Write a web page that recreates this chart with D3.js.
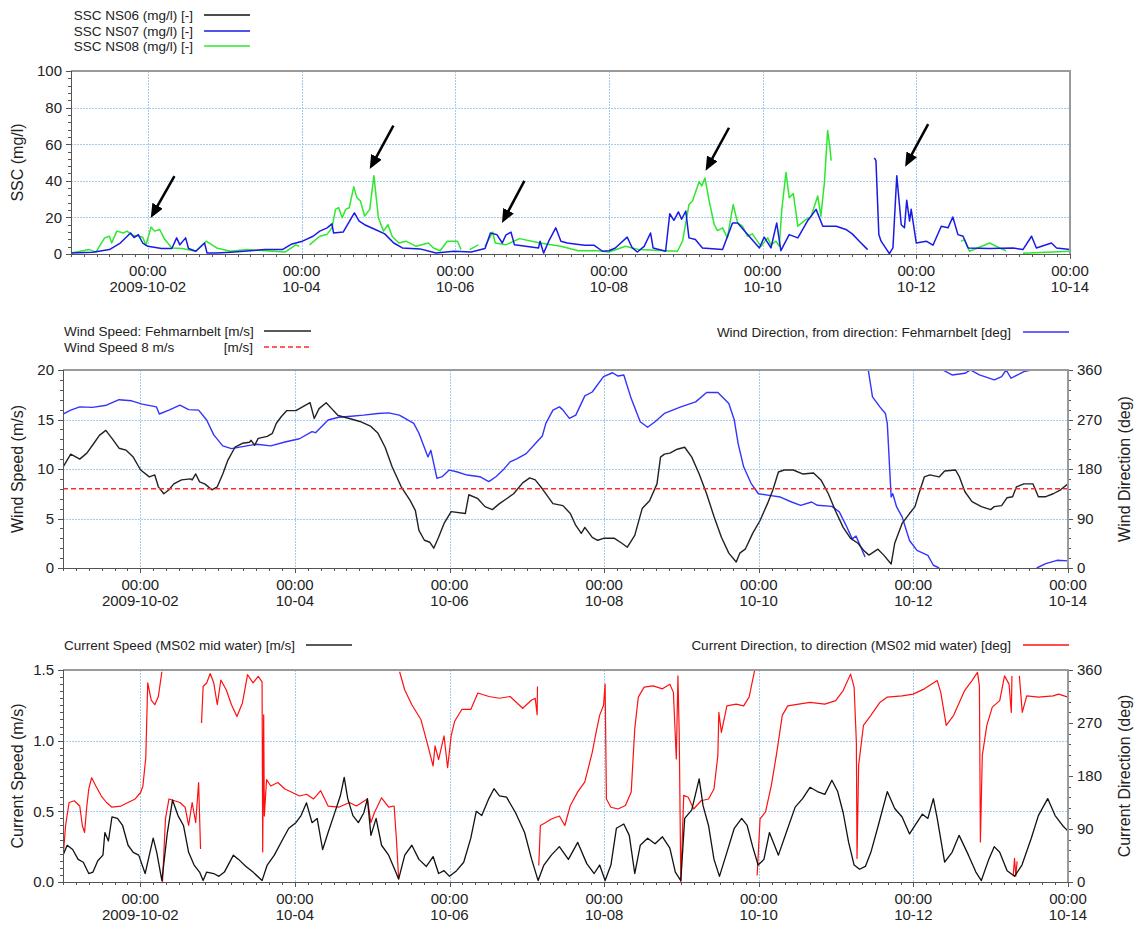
<!DOCTYPE html>
<html>
<head>
<meta charset="utf-8">
<script src="https://cdn.jsdelivr.net/npm/d3@7"></script>
<style>
  body { margin: 0; background: #fff; }
  svg { font-family: "Liberation Sans", Arial, sans-serif; }
  text { fill: #222; }
</style>
</head>
<body>
<svg id="chart" width="1137" height="925"></svg>
<script>
// time is given in hours after 2009-10-01 00:00 (UTC)
var startDate = Date.UTC(2009, 9, 1);
var endHour = 312;
var majorHours = [24, 72, 120, 168, 216, 264, 312];

var sscTicks = [0, 20, 40, 60, 80, 100];
var windTicks = [0, 5, 10, 15, 20];
var dirTicks = [0, 90, 180, 270, 360];
var curTicks = [0, 0.5, 1.0, 1.5];
var windLimit = 8;

// SSC (mg/l), null = gap
var sscNS06 = [];
var sscNS07 = [[0,0.5],[6.8,1],[12,2.4],[15.4,6],[18.6,11.5],[19.7,9],[21,10.6],[22.4,6],[24,4.2],[28.3,3],[31.5,3],[33,8.8],[34,5],[35.8,8.8],[36.7,3],[39,1.5],[41.7,6],[42.5,0.5],[45.5,0.5],[49.8,1],[56,1.8],[60.5,2.4],[66,2.4],[69,5.5],[72.3,7],[75.6,9.7],[77.7,12.5],[80,14.3],[81.5,16.5],[82,11.5],[85,12],[88.5,22.5],[90,18],[91.7,16],[95,13.4],[98,11],[100.8,6],[103.5,3.3],[109,2.8],[114,0.5],[119.6,1.5],[125,1.1],[129.3,3],[131,11.5],[133,10.6],[134.7,6],[135.8,10.3],[137.4,12],[138.5,5],[142,4.2],[146,3.3],[146.5,7],[147.6,0.5],[149.2,7],[151.4,14.3],[153,7],[155,6],[157.3,5.5],[160.5,4.8],[163.3,4.8],[166,1.5],[168,1.8],[170,3.3],[173.7,9.2],[175.3,3.3],[176.9,1.1],[179,4.2],[181,11.5],[181.8,3.3],[185.7,1.5],[187,22],[188.3,18.4],[189.7,23],[190.7,19],[192,23.5],[193,8.8],[195,7.9],[197.2,3.3],[203.5,2.4],[206.6,17],[208.2,17],[211.8,9.7],[215,3.3],[216.5,9.2],[218.6,3.3],[220.4,17],[221.7,1.8],[224.3,10.6],[227,8.8],[230,18],[232.7,24.4],[234.8,15.2],[239,15.2],[242,13.4],[244,11],[246.2,7],[248.8,2.4],[249.5,null],[250.9,52.5],[251.4,51],[252.3,10.6],[253,7],[255.6,0.2],[256.7,3.3],[257.9,42.8],[259.3,16],[260.3,14.3],[261,29.4],[261.9,18],[262.4,24.4],[264,6],[267.1,7],[269.2,4.8],[271.8,15.2],[273.9,14.3],[275.4,20.2],[277,10.6],[278.6,9.7],[280.2,3.3],[286.9,3],[294.2,3.3],[297.3,2.4],[300,9.7],[301.5,3.3],[306.2,6],[307.8,3.3],[312,2.4]];
var sscNS08 = [[0,0.5],[5.7,2.4],[7.8,1],[10.5,8.8],[12,9.7],[12.7,6],[14.3,12.5],[16.4,11.5],[17.5,12.5],[19.1,10.3],[21.3,9.7],[22.4,9.2],[23.4,4.8],[25,14.7],[26.1,12.5],[27.7,13.4],[29.3,7.9],[31.5,3.3],[34.7,3],[39,1.5],[42.2,7],[45.5,3.3],[49.8,1.5],[55,2.4],[60.5,1.8],[67,1.1],[70.2,5],[71.3,4.2],[72.5,null],[74.5,5],[77.7,9.7],[79.9,10.6],[81.5,14.3],[82.6,24.4],[83.6,25.3],[84.7,19.8],[85.8,24.4],[86.9,25.3],[88.3,36.7],[89.3,30.8],[90.4,29],[91.7,20.7],[93.3,24.4],[94.6,42.8],[96,19.8],[97.6,12.5],[99,16],[100.3,9.7],[102.4,6],[104.6,7],[107.8,4.2],[111.6,6],[113.2,3.3],[115.3,1.8],[117.5,7],[120.7,7],[121.8,2.4],[123,null],[124.5,2.4],[127.2,5],[128.2,null],[129.3,4.2],[131.7,12],[132.5,6],[135.8,5],[140.1,8.4],[146.5,6],[153,4.2],[158.4,1.8],[164.6,1.8],[168,1.1],[173.2,4.2],[177.4,2.4],[185.7,1.8],[189.4,1.5],[191,7],[193,27],[194.1,29],[196.2,39.6],[197,37.2],[198,41.5],[199.3,29],[200.9,16],[201.9,12.8],[203.5,14.3],[205,8.8],[206.8,27],[208.2,17],[209.7,15.2],[211.3,9.7],[212.8,11],[215.5,4.2],[217.6,8.8],[218.6,5],[220.2,7],[221.2,4.2],[222,24.4],[223.3,44.6],[224.3,30.8],[225.6,33],[227,15.2],[229.6,18.9],[231.1,20.2],[233.2,31.7],[234.2,20.7],[235.3,39],[236.3,67.5],[237,58.4],[237.4,51],[238,null],[278,7],[279,7.9],[280.6,1.5],[283.7,3.7],[286.9,6],[290,3.3],[292,1.8],[293,null],[297.3,0.4],[312,1.5]];

// arrows: [tail hour, tail SSC, head hour, head SSC]
var arrows = [[32.3,42.6,24.9,19.7],[100.7,70.1,93.3,46.4],[141.6,40,134.6,16.9],[205.5,69,198.2,45.5],[267.7,71,260.5,47.7]];

// wind speed (m/s) and wind direction (deg, from)
var windSpeed = [[0,10.2],[2.4,11.5],[4.1,11.2],[5.2,11],[7.4,11.6],[9.6,12.6],[11.3,13.4],[13.3,13.9],[15.2,13.1],[17.4,12.1],[19.6,11.9],[21.8,11.2],[24.1,9.9],[26.8,9.2],[28.5,9.4],[29.6,8.2],[31.3,7.5],[32.9,7.9],[34.4,8.5],[36.8,8.9],[39.6,9],[40.1,8.9],[41.2,9.5],[42.4,8.7],[44,8.5],[46.2,7.9],[47.9,8.2],[49.6,9.5],[51.2,10.9],[53.4,12.2],[55.7,12.6],[57.9,12.7],[58.4,12.9],[59.5,12.4],[60.6,13.1],[63.4,13.3],[65,13.6],[66.2,14.6],[67.8,15.3],[69.5,15.9],[72.3,15.9],[74.5,16.3],[76.7,16.7],[78,15.1],[79.5,16.1],[81.7,16.7],[83.4,16.1],[85.4,15.4],[88.9,15.1],[92.2,14.8],[95.6,14.3],[97.8,13.6],[100,12.2],[102.2,10.2],[105,8.2],[107.8,6.8],[109.4,5.8],[110.5,3.8],[112.2,2.8],[113.9,2.6],[115.1,2],[116.6,3.1],[118.3,4.5],[120.5,5.7],[124.9,5.5],[126,7.4],[128.8,7],[131,6.2],[133.3,5.9],[135.5,6.5],[137.7,7],[139.9,7.5],[142.7,8.6],[144.9,9.1],[146.6,8.9],[148.8,8],[152.1,6.5],[155.2,6.3],[157.5,5.5],[159.2,4.3],[160.9,3.5],[162,4.1],[164.3,3.1],[166,2.8],[167.8,3],[171.2,3],[173.5,2.5],[175.2,2.1],[177.5,3.3],[179.8,6],[182.1,6.8],[184.4,8.5],[185.5,11.2],[186.7,11.5],[188.4,11.6],[190.7,12],[193,12.2],[195.2,11.2],[197.5,9.5],[199.8,7.5],[202.1,5.2],[204.4,3.1],[206.7,1.5],[209,0.6],[210.1,1.5],[211.8,1.9],[214.1,3.5],[216.4,4.8],[218.7,6.5],[220.4,7.9],[222.1,9.7],[223.9,9.9],[226.7,9.9],[229.6,9.5],[233,9.6],[235.3,8.9],[237.6,7.5],[239.9,5.7],[242.2,4.1],[244.5,3],[246.8,2.5],[248.5,1.8],[250.2,1.3],[253,1.9],[254.8,1.3],[257.1,0.4],[258.2,2.5],[260.5,4.5],[262.8,5.5],[264.5,6.2],[265.6,7.4],[267.4,9.2],[269.1,9.4],[272,9.2],[273.7,9.8],[277.1,9.9],[278.3,9.2],[280,7.7],[282.2,6.7],[285.1,6.2],[288,5.9],[289.1,6.2],[291.4,6.3],[293.1,7.1],[294.8,7.2],[296,8.2],[298.3,8.5],[301.1,8.5],[302.8,7.2],[305.1,7.2],[307.4,7.5],[309.7,7.9],[312,8.5]];
var windDir = [[0,280],[2.4,287],[5.2,293],[9.1,292],[13.5,296],[17.4,306],[21.3,304],[24.6,298],[29,293],[29.9,280],[32.9,287],[36.3,296],[39,288],[42.1,287],[44.6,269],[46.8,242],[49.6,222],[52.3,217],[57.9,223],[60.1,225],[64.5,222],[68.9,229],[73.4,235],[77.3,248],[78.4,246],[82.3,269],[85.6,274],[89.5,276],[93.3,278],[97.8,281],[101.1,282],[104.4,278],[108.9,263],[110.5,245],[113.3,202],[114.2,214],[116.1,163],[117.7,166],[119.9,178],[122.2,175],[125.5,169],[129.4,166],[132.2,157],[134.4,166],[136.6,178],[138.8,193],[141,199],[143.8,208],[146.6,226],[148.8,240],[149.9,263],[152.1,287],[154.1,293],[155.1,288],[157.2,272],[159.2,278],[162,313],[164.3,320],[167.8,348],[170.6,355],[172.3,349],[174.1,351],[176.4,308],[179.2,266],[181.5,256],[183.8,266],[186.7,281],[191.8,293],[196.4,302],[199.8,319],[203.3,319],[206.7,299],[208.4,269],[209.6,226],[211.3,184],[213.6,154],[215.9,135],[219.3,132],[222.7,129],[226.2,120],[229,114],[232.4,120],[234.2,114],[238.7,112],[241,102],[243.3,75],[245,53],[246.2,58],[249,20],[249.5,null],[250,360],[251.3,311],[253.6,293],[255.3,281],[255.9,263],[257.1,129],[257.6,135],[258.8,111],[260.5,93],[262.8,50],[265.1,32],[268.5,23],[270.2,5],[272,0],[272.5,null],[273.1,360],[276,351],[280,354],[281.7,360],[284.5,351],[289.1,342],[291.4,348],[292.8,360],[294.3,345],[298.3,357],[300.6,360],[301.5,null],[302.3,0],[305.1,8],[308.6,14],[312,13]];

// current speed (m/s) and current direction (deg, to)
var curSpeed = [[0,0.19],[1.3,0.26],[3,0.23],[4.7,0.16],[6.3,0.14],[8,0.06],[9.3,0.07],[10.8,0.15],[12.4,0.19],[13,0.35],[14.1,0.29],[15.2,0.46],[16.9,0.45],[18.5,0.4],[20.2,0.26],[21.8,0.21],[23.5,0.19],[25.5,0.06],[26.8,0.19],[28,0.31],[29.1,0.21],[30.7,0.01],[32.4,0.35],[34,0.58],[35.7,0.47],[37.4,0.4],[39,0.21],[40.7,0.12],[42.4,0.07],[43.5,0.01],[44.6,0.07],[46.8,0.06],[48.4,0.04],[50.1,0.07],[52.9,0.19],[54.5,0.16],[56.8,0.11],[59,0.07],[61.8,0.01],[63.4,0.12],[65.6,0.19],[68.4,0.31],[70.1,0.38],[72.3,0.42],[73.9,0.47],[75.6,0.56],[77.3,0.42],[78.9,0.45],[80.6,0.23],[82.3,0.35],[84.5,0.5],[86.1,0.61],[87.3,0.74],[88.4,0.59],[90,0.47],[91.7,0.42],[93.4,0.49],[94.5,0.59],[95.6,0.33],[97.2,0.45],[98.9,0.26],[101.1,0.19],[103.3,0.07],[104.2,0.02],[106.1,0.19],[108.3,0.26],[110.5,0.16],[112.8,0.11],[114.9,0.18],[116.6,0.06],[118.3,0.08],[120,0.04],[122.2,0.08],[124.4,0.14],[126.6,0.31],[128.3,0.5],[130,0.47],[132.2,0.59],[133.8,0.66],[135.5,0.61],[137.7,0.6],[140.5,0.49],[143.3,0.35],[145.5,0.16],[147.5,0.01],[149.3,0.12],[151.6,0.19],[154.1,0.25],[156.9,0.16],[159.8,0.28],[162.6,0.13],[164.9,0.06],[166.6,0.12],[168.3,0.01],[170.1,0.12],[171.8,0.38],[174.1,0.41],[175.8,0.33],[177.5,0.06],[179.2,0.26],[181.5,0.31],[183.8,0.27],[186.1,0.32],[188.4,0.24],[190.1,0.07],[191.8,0.01],[193,0.45],[195.2,0.51],[197.5,0.73],[198.7,0.54],[200.4,0.4],[202.1,0.16],[203.8,0.04],[206.1,0.21],[208.4,0.38],[210.7,0.45],[212.4,0.4],[214.1,0.25],[215.8,0.12],[217.6,0.16],[219.3,0.35],[222.1,0.19],[225,0.38],[227.3,0.53],[229.6,0.59],[231.9,0.67],[234.2,0.64],[236.5,0.62],[238.7,0.72],[240.5,0.64],[242.2,0.49],[243.9,0.28],[245.6,0.12],[247.3,0.09],[249.1,0.11],[250.8,0.21],[253.1,0.4],[255.9,0.64],[258.2,0.52],[260.5,0.46],[262.8,0.34],[264.5,0.4],[266.8,0.48],[268.5,0.45],[270.2,0.59],[271.4,0.45],[273.7,0.14],[276,0.21],[278.2,0.33],[281.1,0.19],[283.4,0.07],[285.1,0.01],[287.4,0.16],[289.1,0.25],[290.8,0.21],[293.1,0.08],[295.4,0.04],[297.7,0.12],[300.6,0.31],[302.8,0.47],[305.7,0.59],[308,0.47],[310.3,0.4],[312,0.36]];
var curDir = [[0,39],[0.8,96],[1.9,135],[3.5,138],[5.2,129],[6,96],[6.7,84],[7.4,129],[8,158],[8.9,177],[10.2,163],[11.9,146],[13.5,135],[15.2,127],[18,129],[20.2,135],[22.4,141],[24.1,152],[24.8,163],[25.7,211],[26.3,338],[27.4,309],[28.5,301],[29.6,315],[30.7,357],[30.8,null],[30.9,0],[31.8,107],[32.9,141],[34.6,138],[36.3,135],[37.9,127],[39,96],[40.1,135],[41.2,101],[42.1,169],[42.7,56],[42.85,null],[43,270],[43.5,332],[44.6,338],[45.7,354],[46.8,338],[47.9,301],[49,343],[50.7,326],[52.3,301],[54,281],[55.7,304],[57.3,352],[59,338],[60.6,349],[61.8,340],[62,51],[62.3,284],[62.5,112],[63.2,174],[64.5,163],[66.7,169],[68.9,158],[71.2,152],[73.4,146],[75.6,149],[77.8,141],[80,155],[82.3,129],[85.6,127],[88.9,135],[91.1,129],[94.5,141],[95.6,101],[96.7,118],[98.9,143],[101.1,127],[102.8,129],[103.5,73],[104.2,6],[104.35,null],[104.5,357],[106.1,326],[108.3,301],[111.1,276],[113.3,231],[114.9,197],[115.5,231],[116.6,208],[118.3,248],[119.4,194],[120.5,248],[121.6,273],[123.8,293],[126.6,293],[128.8,321],[132.2,315],[135.5,312],[138.8,315],[142.7,295],[145.5,309],[146.6,312],[147.2,284],[147.3,332],[147.5,null],[147.7,28],[148.2,96],[149.9,101],[151.6,107],[154.1,112],[155.8,96],[157.5,130],[159.8,153],[162,170],[164.3,220],[165.5,254],[166.6,283],[167.8,300],[168.3,336],[168.7,141],[170.1,127],[172.3,124],[174.6,130],[176.4,153],[177.5,260],[178.6,314],[180.4,331],[183.2,333],[186.1,328],[188.4,336],[189.5,322],[190.4,209],[190.9,350],[191.3,254],[191.8,0],[192.7,147],[194.1,144],[195.8,124],[198.1,138],[200.4,141],[202.1,158],[203.3,215],[203.6,288],[204.4,254],[206.1,299],[209,302],[211.3,299],[213,314],[214.7,359],[215.1,null],[215.5,11],[216.4,107],[218.1,119],[219.9,164],[221.6,220],[223.3,283],[225,299],[228.4,302],[231.9,305],[236.5,302],[239.9,308],[242.2,325],[244.5,353],[245.6,331],[246.3,237],[246.5,40],[247,198],[248.5,266],[250.8,283],[253.6,305],[255.9,314],[260.5,316],[263.9,319],[267.4,328],[271.4,342],[272.5,322],[274.2,266],[276.5,283],[279.9,325],[282.2,342],[283.9,356],[284.5,333],[284.8,68],[285.4,215],[286.8,266],[288.5,297],[290.8,308],[292.3,350],[293.7,336],[294.4,288],[294.6,350],[294.8,null],[295,12],[295.4,40],[295.8,10],[296.2,35],[296.5,null],[296.9,350],[297.8,288],[299.2,316],[302.8,314],[307.4,316],[309.1,319],[312,314]];

// ---------------------------------------------------------------
var svg = d3.select("#chart");
var defs = svg.append("defs");

function hr(h) { return new Date(startDate + h * 3600000); }
function px(v) { return Math.round(v) + 0.5; }   // snap hairlines to the pixel grid

function styleAxis(sel) {
  sel.attr("font-family", null).attr("font-size", null);
  sel.select(".domain").remove();
  sel.selectAll(".tick line").attr("stroke", "#555").attr("shape-rendering", "crispEdges");
  sel.selectAll(".tick text").attr("fill", "#222").attr("font-size", 15);
}

function makePanel(box, id) {
  var g = svg.append("g");
  var x = d3.scaleUtc().domain([hr(0), hr(endHour)]).range([box.x0, box.x1]);
  defs.append("clipPath").attr("id", id).append("rect")
      .attr("x", box.x0).attr("y", box.y0)
      .attr("width", box.x1 - box.x0).attr("height", box.y1 - box.y0);
  return { g: g, x: x, box: box, clip: "url(#" + id + ")" };
}

function drawGrid(P, y, ticks) {
  var gg = P.g.append("g");
  gg.selectAll("line.v").data(majorHours.slice(0, -1)).join("line").attr("class", "v")
      .attr("x1", function(d){ return px(P.x(hr(d))); }).attr("x2", function(d){ return px(P.x(hr(d))); })
      .attr("y1", P.box.y0).attr("y2", P.box.y1);
  gg.selectAll("line.h").data(ticks.slice(1, -1)).join("line").attr("class", "h")
      .attr("x1", P.box.x0).attr("x2", P.box.x1)
      .attr("y1", function(d){ return px(y(d)); }).attr("y2", function(d){ return px(y(d)); });
  gg.selectAll("line").attr("stroke", "#a4ccf0").attr("stroke-width", 1)
      .attr("stroke-dasharray", "2,1");
}

function drawSeries(P, y, data, color, width, dash) {
  var line = d3.line()
      .defined(function(d){ return d[1] !== null; })
      .x(function(d){ return P.x(hr(d[0])); })
      .y(function(d){ return y(d[1]); });
  P.g.append("path").datum(data)
      .attr("clip-path", P.clip)
      .attr("fill", "none")
      .attr("stroke", color)
      .attr("stroke-width", width)
      .attr("stroke-linejoin", "round")
      .attr("stroke-dasharray", dash || null)
      .attr("d", line);
}

function drawTimeAxis(P) {
  var y1 = P.box.y1;
  styleAxis(P.g.append("g").attr("transform", "translate(0," + y1 + ")")
      .call(d3.axisBottom(P.x).tickValues(d3.range(0, endHour + 1, 4).map(hr)).tickSize(3).tickFormat("")));
  styleAxis(P.g.append("g").attr("transform", "translate(0," + y1 + ")")
      .call(d3.axisBottom(P.x).tickValues(majorHours.map(hr)).tickSize(5).tickFormat("")));
  var fTime = d3.utcFormat("%H:%M"), fFirst = d3.utcFormat("%Y-%m-%d"), fDay = d3.utcFormat("%m-%d");
  var lab = P.g.append("g").selectAll("text").data(majorHours).join("text")
      .attr("text-anchor", "middle").attr("font-size", 15);
  lab.append("tspan").attr("x", function(d){ return P.x(hr(d)); }).attr("y", y1 + 22)
      .text(function(d){ return fTime(hr(d)); });
  lab.append("tspan").attr("x", function(d){ return P.x(hr(d)); }).attr("y", y1 + 38)
      .text(function(d, i){ return i === 0 ? fFirst(hr(d)) : fDay(hr(d)); });
}

function drawYAxis(P, y, ticks, minorStep, side, fmt) {
  var pos = side === "left" ? P.box.x0 : P.box.x1;
  var mk = side === "left" ? d3.axisLeft : d3.axisRight;
  var dom = y.domain();
  var n = Math.round((dom[1] - dom[0]) / minorStep);
  var minorVals = d3.range(0, n + 1).map(function(i){ return dom[0] + i * minorStep; });
  styleAxis(P.g.append("g").attr("transform", "translate(" + pos + ",0)")
      .call(mk(y).tickValues(minorVals).tickSize(3).tickFormat("")));
  styleAxis(P.g.append("g").attr("transform", "translate(" + pos + ",0)")
      .call(mk(y).tickValues(ticks).tickSize(5).tickPadding(4).tickFormat(fmt)));
}

function drawFrame(P) {
  var b = P.box;
  P.g.append("path").attr("d", "M" + b.x0 + "," + b.y0 + "H" + b.x1 + "V" + b.y1)
      .attr("fill", "none").attr("stroke", "#9a9a9a").attr("stroke-width", 2);
  P.g.append("path").attr("d", "M" + b.x0 + "," + b.y0 + "V" + b.y1 + "H" + b.x1)
      .attr("fill", "none").attr("stroke", "#555").attr("stroke-width", 1)
      .attr("shape-rendering", "crispEdges");
}

function yTitle(x, box, label) {
  svg.append("text")
      .attr("transform", "translate(" + x + "," + ((box.y0 + box.y1) / 2) + ") rotate(-90)")
      .attr("text-anchor", "middle").attr("font-size", 16).text(label);
}

function legendItem(tx, ty, anchor, label, lx1, lx2, color, dash) {
  svg.append("text").attr("x", tx).attr("y", ty + 5).attr("text-anchor", anchor)
      .attr("font-size", 13.5).text(label);
  svg.append("line").attr("x1", lx1).attr("x2", lx2).attr("y1", ty).attr("y2", ty)
      .attr("stroke", color).attr("stroke-width", 1.5).attr("stroke-dasharray", dash || null);
}

// ---- panel 1: SSC ----
var P1 = makePanel({ x0: 71, x1: 1070, y0: 71, y1: 254 }, "c1");
var ySSC = d3.scaleLinear().domain([0, 100]).range([P1.box.y1, P1.box.y0]);
drawGrid(P1, ySSC, sscTicks);
drawSeries(P1, ySSC, sscNS06, "#111", 1.5);
drawSeries(P1, ySSC, sscNS08, "#2ee82e", 1.5);
drawSeries(P1, ySSC, sscNS07, "#1a1ae6", 1.5);

defs.append("marker").attr("id", "head")
    .attr("viewBox", "0 0 14 12").attr("refX", 8).attr("refY", 6)
    .attr("markerWidth", 14).attr("markerHeight", 12)
    .attr("markerUnits", "userSpaceOnUse").attr("orient", "auto")
  .append("path").attr("d", "M0,0L14,6L0,12z").attr("fill", "#000");

P1.g.append("g").selectAll("line").data(arrows).join("line")
    .each(function(a) {
      var x1 = P1.x(hr(a[0])), y1 = ySSC(a[1]), x2 = P1.x(hr(a[2])), y2 = ySSC(a[3]);
      var len = Math.hypot(x2 - x1, y2 - y1), k = (len - 6) / len;
      d3.select(this).attr("x1", x1).attr("y1", y1)
        .attr("x2", x1 + (x2 - x1) * k).attr("y2", y1 + (y2 - y1) * k);
    })
    .attr("stroke", "#000").attr("stroke-width", 2.5).attr("marker-end", "url(#head)");

drawYAxis(P1, ySSC, sscTicks, 4, "left", d3.format("d"));
drawTimeAxis(P1);
drawFrame(P1);
yTitle(23, P1.box, "SSC (mg/l)");

legendItem(193, 15, "end", "SSC NS06 (mg/l) [-]", 204, 250, "#111");
legendItem(193, 31, "end", "SSC NS07 (mg/l) [-]", 204, 250, "#1a1ae6");
legendItem(193, 46, "end", "SSC NS08 (mg/l) [-]", 204, 250, "#2ee82e");

// ---- panel 2: wind ----
var P2 = makePanel({ x0: 63, x1: 1068, y0: 370, y1: 568 }, "c2");
var yWind = d3.scaleLinear().domain([0, 20]).range([P2.box.y1, P2.box.y0]);
var yWDir = d3.scaleLinear().domain([0, 360]).range([P2.box.y1, P2.box.y0]);
drawGrid(P2, yWind, windTicks);
drawSeries(P2, yWDir, windDir, "#3333ff", 1.4);
drawSeries(P2, yWind, windSpeed, "#222", 1.4);
drawSeries(P2, yWind, [[0, windLimit], [endHour, windLimit]], "#ff2a2a", 1.4, "5,3");
drawYAxis(P2, yWind, windTicks, 1, "left", d3.format("d"));
drawYAxis(P2, yWDir, dirTicks, 18, "right", d3.format("d"));
drawTimeAxis(P2);
drawFrame(P2);
yTitle(23, P2.box, "Wind Speed (m/s)");
yTitle(1130, P2.box, "Wind Direction (deg)");

legendItem(64, 331, "start", "Wind Speed: Fehmarnbelt [m/s]", 264, 311, "#222");
legendItem(64, 347, "start", "Wind Speed 8 m/s", 264, 311, "#ff2a2a", "5,3");
svg.append("text").attr("x", 253).attr("y", 352).attr("text-anchor", "end")
    .attr("font-size", 13.5).text("[m/s]");
legendItem(1011, 332, "end", "Wind Direction, from direction: Fehmarnbelt [deg]", 1023, 1069, "#3333ff");

// ---- panel 3: current ----
var P3 = makePanel({ x0: 63, x1: 1068, y0: 670, y1: 882 }, "c3");
var yCur = d3.scaleLinear().domain([0, 1.5]).range([P3.box.y1, P3.box.y0]);
var yCDir = d3.scaleLinear().domain([0, 360]).range([P3.box.y1, P3.box.y0]);
drawGrid(P3, yCur, curTicks);
drawSeries(P3, yCDir, curDir, "#ff1010", 1.2);
drawSeries(P3, yCur, curSpeed, "#111", 1.3);
drawYAxis(P3, yCur, curTicks, 0.05, "left", d3.format(".1f"));
drawYAxis(P3, yCDir, dirTicks, 18, "right", d3.format("d"));
drawTimeAxis(P3);
drawFrame(P3);
yTitle(23, P3.box, "Current Speed (m/s)");
yTitle(1130, P3.box, "Current Direction (deg)");

legendItem(64, 645, "start", "Current Speed (MS02 mid water) [m/s]", 306, 352, "#222");
legendItem(1011, 645, "end", "Current Direction, to direction (MS02 mid water) [deg]", 1023, 1069, "#ff1010");
</script>
</body>
</html>
